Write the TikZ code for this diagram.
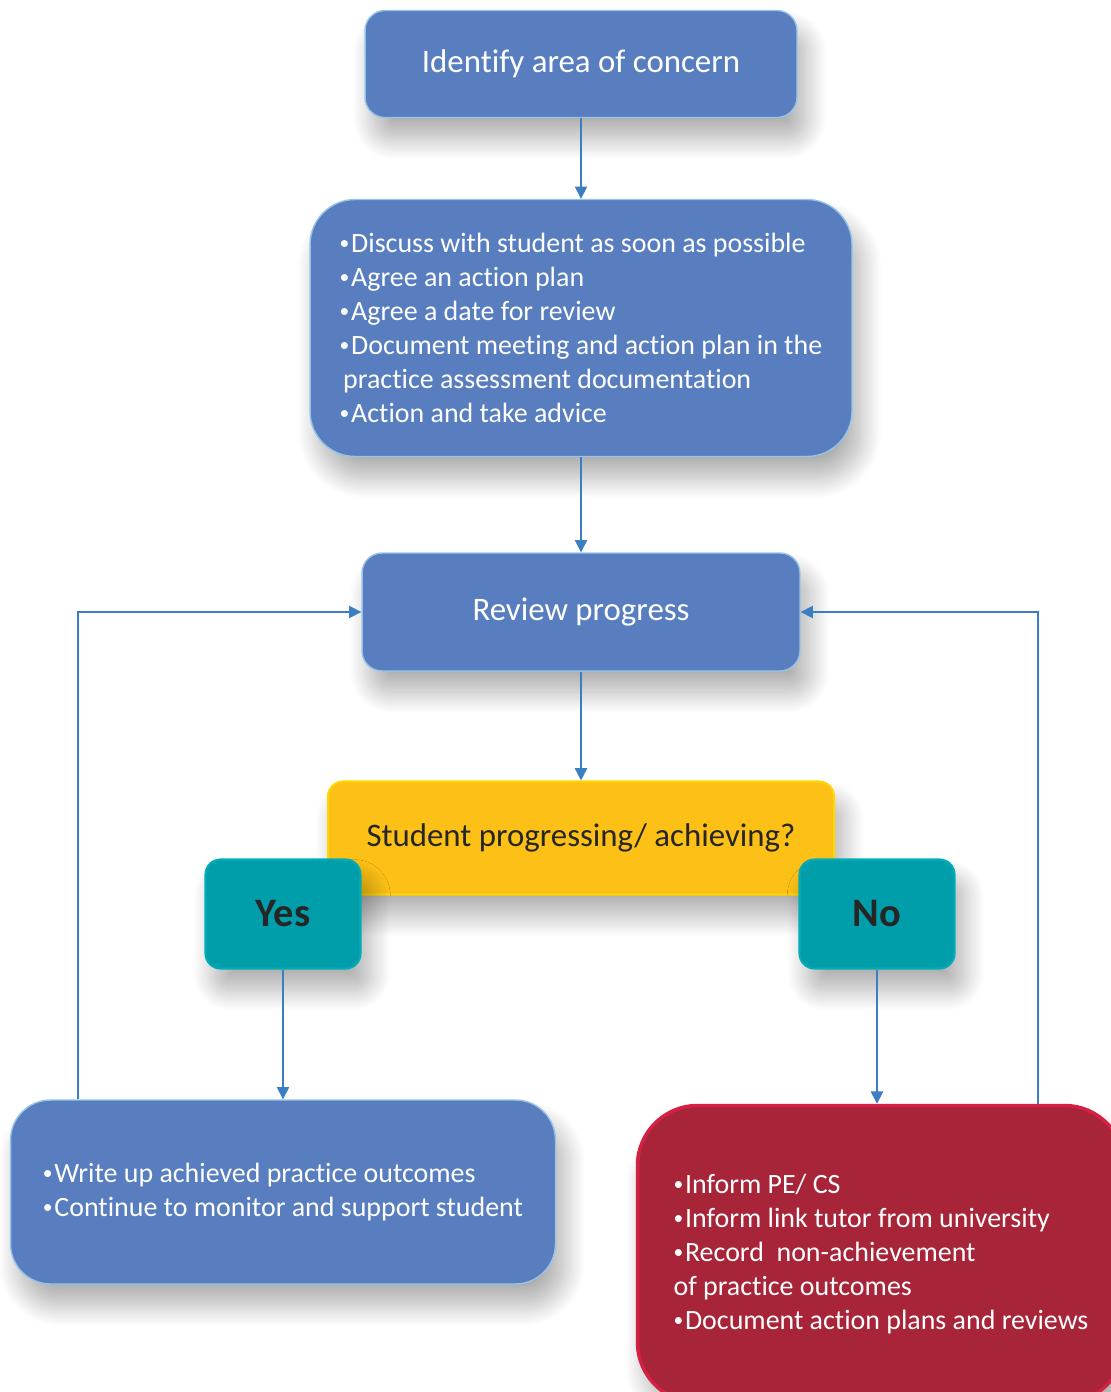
\documentclass[tikz,border=0pt]{standalone}
\usepackage{fontspec}
\setmainfont{Carlito}[Ligatures={NoCommon}]
\usetikzlibrary{arrows.meta, shadows.blur}
\definecolor{boxblue}{RGB}{88,126,191}
\definecolor{rimblue}{RGB}{150,196,232}
\definecolor{askyellow}{RGB}{252,192,22}
\definecolor{rimyellow}{RGB}{255,214,0}
\definecolor{answerteal}{RGB}{0,158,170}
\definecolor{rimteal}{RGB}{0,172,182}
\definecolor{failred}{RGB}{168,36,56}
\definecolor{rimred}{RGB}{212,32,68}
\definecolor{linkblue}{RGB}{58,127,193}
\newcommand{\bul}{\raisebox{0.22ex}{\scalebox{0.7}{•}}\hspace{1pt}}
\tikzstyle{dropshadow} = [blur shadow={shadow xshift=5pt, shadow yshift=-12pt, shadow blur radius=12pt, shadow blur steps=20, shadow opacity=32}]
\tikzstyle{process} = [rectangle, rounded corners=0.4cm, fill=boxblue, draw=rimblue, line width=0.8pt, text=white, font=\fontsize{18.7}{22}\selectfont, dropshadow]
\tikzstyle{listbox} = [process, align=left, font=\fontsize{15.9}{19.35}\selectfont]
\tikzstyle{decision} = [rectangle, rounded corners=0.3cm, fill=askyellow, draw=rimyellow, line width=1.2pt, text=black!85, font=\fontsize{18.7}{22}\selectfont, dropshadow]
\tikzstyle{answer} = [rectangle, rounded corners=0.3cm, fill=answerteal, draw=rimteal, line width=1.2pt, minimum width=3.1cm, minimum height=2.18cm, text=black!85, font=\bfseries\fontsize{23}{27}\selectfont, dropshadow]
\tikzstyle{arrow} = [draw=linkblue, line width=0.85pt, -{Triangle[length=7pt,width=7pt]}]

\begin{document}
\begin{tikzpicture}[x=0.02cm, y=-0.02cm]
        \useasboundingbox (0,0) rectangle (1111,1392);
        \node (identify) [process, minimum width=8.64cm, minimum height=2.14cm] at (581,64) {Identify area of concern};
        \node (discuss) [listbox, rounded corners=0.9cm, minimum width=10.84cm, minimum height=5.14cm] at (581,328)
            {\bul Discuss with student as soon as possible\\\bul Agree an action plan\\\bul Agree a date for review\\\bul Document meeting and action plan in the\\\hspace{2pt}practice assessment documentation\\\bul Action and take advice};
        \draw [arrow] (identify) -- (discuss);
        \node (review) [process, minimum width=8.76cm, minimum height=2.36cm] at (581,612) {Review progress};
        \draw [arrow] (discuss) -- (review);
        \node (ask) [decision, minimum width=10.12cm, minimum height=2.26cm] at (581,838) {Student progressing/ achieving?};
        \draw [arrow] (review) -- (ask);
        \node (yes) [answer] at (283,914) {Yes};
        \node (no) [answer] at (877,914) {No};
        \node (achieved) [listbox, rounded corners=0.8cm, minimum width=10.9cm, minimum height=3.68cm] at (283,1192)
            {\bul Write up achieved practice outcomes\\\bul Continue to monitor and support student};
        \node (notachieved) [listbox, fill=failred, draw=rimred, line width=2pt, rounded corners=1.2cm, minimum width=9.74cm, minimum height=5.94cm] at (881,1254)
            {\bul Inform PE/ CS\\\bul Inform link tutor from university\\\bul Record~ non-achievement\\of practice outcomes\\\bul Document action plans and reviews};
        \draw [arrow] (yes) -- (achieved);
        \draw [arrow] (no.south) -- (no.south |- notachieved.north);
        % loops back to review
        \coordinate (yesloop) at (78,612);
        \coordinate (noloop) at (1038,612);
        \draw [arrow] (yesloop |- achieved.north) -- (yesloop) -- (review.west);
        \draw [arrow] (noloop |- notachieved.north) -- (noloop) -- (review.east);
    \end{tikzpicture}
\end{document}
